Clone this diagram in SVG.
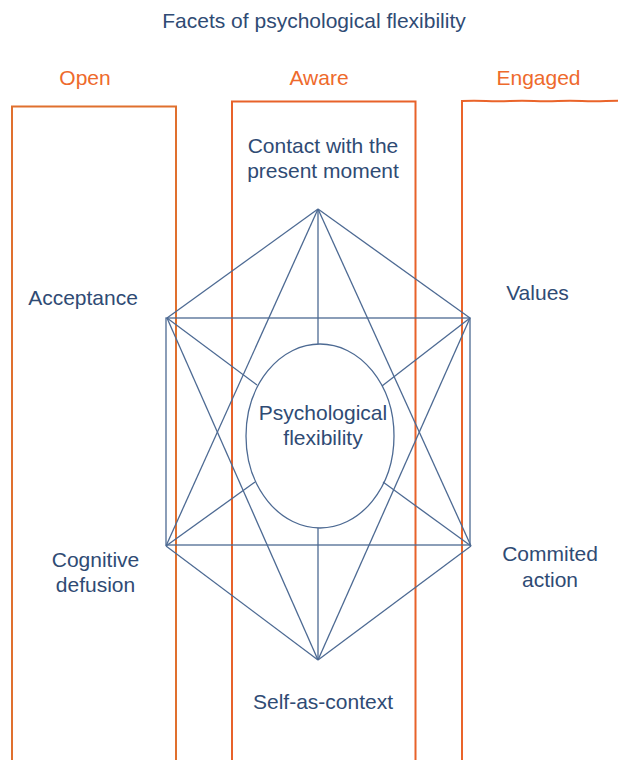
<svg xmlns="http://www.w3.org/2000/svg" width="618" height="760" viewBox="0 0 618 760">
<style>
.t{font-family:"Liberation Sans",Arial,sans-serif;font-size:21px;fill:#2F4B74;text-anchor:middle}
.o{font-family:"Liberation Sans",Arial,sans-serif;font-size:21px;fill:#EE6A2C;text-anchor:middle}
.col{fill:none;stroke:#E0702E;stroke-width:2}
.ln{fill:none;stroke:#4D6A93;stroke-width:1.3}
</style>
<rect width="618" height="760" fill="#ffffff"/>
<text class="t" x="314" y="28">Facets of psychological flexibility</text>
<g id="col-open">
<path class="col" d="M12,760 V106.5 H176 V760"/>
<text class="o" x="85" y="85">Open</text>
</g>
<g id="col-aware">
<path class="col" d="M232,760 V101.5 H415.5 V760" style="stroke:#E8622A"/>
<text class="o" x="319" y="85">Aware</text>
</g>
<g id="col-engaged">
<path class="col" d="M462,760 V101 Q474,100.3 486,101 T510,101 T534,101 T558,101 T582,101 T606,101 T630,101" style="stroke:#EA642A"/>
<text class="o" x="538.5" y="85">Engaged</text>
</g>
<g id="connectors">
<rect class="ln" x="166" y="318" width="304" height="227"/>
<line class="ln" x1="318" y1="209" x2="167" y2="318"/>
<line class="ln" x1="318" y1="209" x2="470" y2="318"/>
<line class="ln" x1="318" y1="209" x2="318" y2="344"/>
<line class="ln" x1="318" y1="209" x2="166" y2="546"/>
<line class="ln" x1="318" y1="209" x2="471" y2="546"/>
<line class="ln" x1="318" y1="660" x2="166" y2="546"/>
<line class="ln" x1="318" y1="660" x2="471" y2="546"/>
<line class="ln" x1="318" y1="660" x2="318" y2="528"/>
<line class="ln" x1="318" y1="660" x2="167" y2="318"/>
<line class="ln" x1="318" y1="660" x2="470" y2="318"/>
<line class="ln" x1="167" y1="318" x2="257" y2="385"/>
<line class="ln" x1="470" y1="318" x2="382" y2="386"/>
<line class="ln" x1="166" y1="546" x2="255" y2="482"/>
<line class="ln" x1="471" y1="546" x2="383" y2="482"/>
</g>
<g id="node-center">
<ellipse class="ln" cx="320" cy="436" rx="74" ry="92" fill="#ffffff"/>
<text class="t" x="323" y="420">Psychological</text>
<text class="t" x="323" y="445">flexibility</text>
</g>
<g id="node-contact">
<text class="t" x="323" y="153">Contact with the</text>
<text class="t" x="323" y="178">present moment</text>
</g>
<g id="node-acceptance">
<text class="t" x="83" y="305">Acceptance</text>
</g>
<g id="node-values">
<text class="t" x="537.5" y="300">Values</text>
</g>
<g id="node-defusion">
<text class="t" x="95.5" y="567">Cognitive</text>
<text class="t" x="95.5" y="592">defusion</text>
</g>
<g id="node-action">
<text class="t" x="550" y="561">Commited</text>
<text class="t" x="550" y="587">action</text>
</g>
<g id="node-self">
<text class="t" x="323" y="709">Self-as-context</text>
</g>
</svg>
